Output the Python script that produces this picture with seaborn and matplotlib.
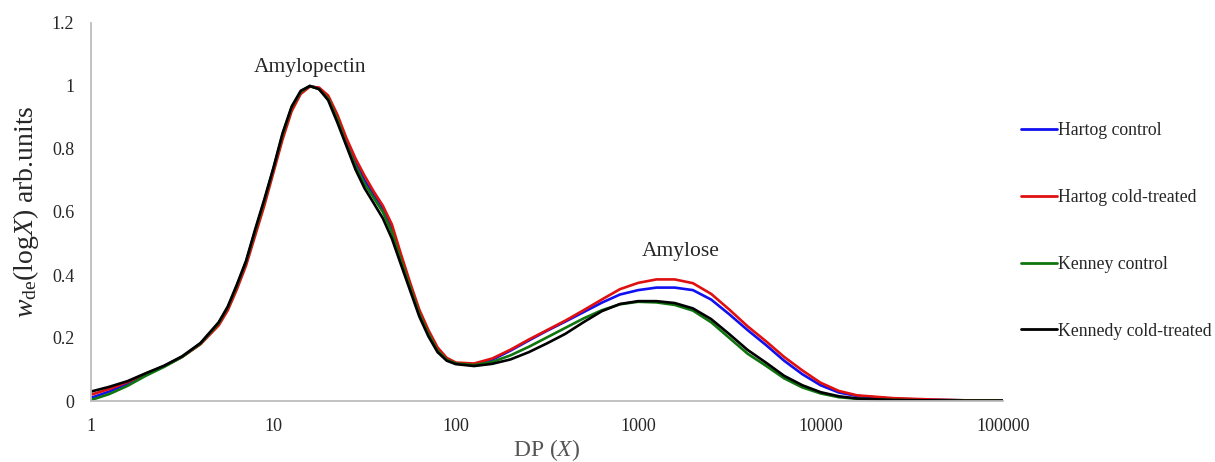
import numpy as np
import pandas as pd
import matplotlib
matplotlib.use("Agg")
import matplotlib.pyplot as plt
import seaborn as sns
from matplotlib.ticker import FixedLocator, FuncFormatter, LogLocator, NullFormatter

# log10 of the degree of polymerisation where the curves were read
log_dp = [0.0, 0.1, 0.2, 0.3, 0.4, 0.5, 0.6, 0.7, 0.75, 0.8, 0.85, 0.9, 0.95,
          1.0, 1.05, 1.1, 1.15, 1.2, 1.25, 1.3, 1.35, 1.4, 1.45, 1.5, 1.55,
          1.6, 1.65, 1.7, 1.75, 1.8, 1.85, 1.9, 1.95, 2.0, 2.1, 2.2, 2.3,
          2.4, 2.5, 2.6, 2.7, 2.8, 2.9, 3.0, 3.1, 3.2, 3.3, 3.4, 3.5, 3.6,
          3.7, 3.8, 3.9, 4.0, 4.1, 4.2, 4.4, 4.6, 4.8, 5.0]

hartog_control = [0.010, 0.030, 0.055, 0.085, 0.110, 0.141, 0.182, 0.245, 0.295,
                  0.362, 0.438, 0.535, 0.630, 0.735, 0.840, 0.930, 0.980, 1.000,
                  0.993, 0.965, 0.900, 0.825, 0.760, 0.700, 0.655, 0.610, 0.550,
                  0.455, 0.365, 0.280, 0.217, 0.163, 0.133, 0.120, 0.116, 0.131,
                  0.160, 0.192, 0.223, 0.252, 0.282, 0.312, 0.338, 0.352, 0.360,
                  0.360, 0.352, 0.322, 0.275, 0.225, 0.178, 0.128, 0.085, 0.050,
                  0.027, 0.016, 0.007, 0.004, 0.002, 0.001]

hartog_cold = [0.020, 0.038, 0.060, 0.087, 0.110, 0.140, 0.180, 0.240, 0.288,
               0.355, 0.430, 0.525, 0.620, 0.725, 0.830, 0.920, 0.975, 0.998,
               0.995, 0.970, 0.910, 0.835, 0.770, 0.715, 0.665, 0.620, 0.560,
               0.465, 0.375, 0.290, 0.225, 0.170, 0.137, 0.122, 0.119, 0.135,
               0.163, 0.195, 0.225, 0.255, 0.288, 0.322, 0.355, 0.375, 0.386,
               0.386, 0.374, 0.340, 0.290, 0.237, 0.190, 0.140, 0.097, 0.058,
               0.032, 0.018, 0.009, 0.005, 0.002, 0.001]

kenney_control = [0.003, 0.022, 0.048, 0.080, 0.108, 0.140, 0.182, 0.247, 0.298,
                  0.366, 0.442, 0.540, 0.635, 0.738, 0.845, 0.932, 0.982, 1.000,
                  0.990, 0.960, 0.895, 0.815, 0.748, 0.690, 0.645, 0.600, 0.535,
                  0.445, 0.360, 0.276, 0.213, 0.160, 0.131, 0.119, 0.114, 0.124,
                  0.145, 0.172, 0.202, 0.232, 0.262, 0.288, 0.307, 0.315, 0.313,
                  0.305, 0.287, 0.250, 0.200, 0.150, 0.112, 0.072, 0.043, 0.024,
                  0.012, 0.007, 0.003, 0.002, 0.001, 0.001]

kennedy_cold = [0.030, 0.045, 0.063, 0.088, 0.112, 0.142, 0.184, 0.250, 0.300,
                0.370, 0.445, 0.545, 0.640, 0.740, 0.850, 0.935, 0.985, 1.000,
                0.990, 0.955, 0.885, 0.810, 0.735, 0.675, 0.628, 0.580, 0.515,
                0.432, 0.350, 0.268, 0.205, 0.155, 0.128, 0.117, 0.111, 0.118,
                0.132, 0.155, 0.183, 0.213, 0.250, 0.285, 0.308, 0.317, 0.317,
                0.311, 0.294, 0.260, 0.212, 0.162, 0.122, 0.080, 0.050, 0.028,
                0.015, 0.008, 0.003, 0.002, 0.001, 0.001]

series = {
    "Hartog control": hartog_control,
    "Hartog cold-treated": hartog_cold,
    "Kenney control": kenney_control,
    "Kennedy cold-treated": kennedy_cold,
}
colors = {
    "Hartog control": "#1010f0",
    "Hartog cold-treated": "#e01010",
    "Kenney control": "#0f750f",
    "Kennedy cold-treated": "#000000",
}

dp = 10 ** np.array(log_dp)
df = pd.concat(
    [pd.DataFrame({"dp": dp, "w": vals, "sample": name}) for name, vals in series.items()],
    ignore_index=True,
)

sns.set_style("white")
plt.rcParams["font.family"] = ["Liberation Serif", "DejaVu Serif"]
plt.rcParams["mathtext.fontset"] = "custom"
plt.rcParams["mathtext.rm"] = "Liberation Serif"
plt.rcParams["mathtext.it"] = "Liberation Serif:italic"

fig = plt.figure(figsize=(12.15, 4.62), dpi=100)
ax = fig.add_axes([91 / 1215, 61 / 462, 912 / 1215, 378 / 462])

sns.lineplot(data=df, x="dp", y="w", hue="sample", palette=colors, sort=False,
             estimator=None, linewidth=1.9, ax=ax, legend=False)

ax.set_xscale("log")
ax.set_xlim(1, 100000)
ax.set_ylim(0, 1.2)

ax.xaxis.set_major_locator(FixedLocator([1, 10, 100, 1000, 10000, 100000]))
ax.xaxis.set_major_formatter(FuncFormatter(lambda v, p: f"{v:.0f}"))
ax.xaxis.set_minor_locator(LogLocator(base=10, subs=np.arange(2, 10)))
ax.xaxis.set_minor_formatter(NullFormatter())
ax.set_yticks([0, 0.2, 0.4, 0.6, 0.8, 1.0, 1.2])
ax.yaxis.set_major_formatter(FuncFormatter(lambda v, p: f"{v:g}"))

ax.tick_params(axis="x", which="both", direction="in", length=4, width=0.8,
               color="#b0b0b0", labelsize=13, pad=12)
ax.tick_params(axis="y", length=0, labelsize=13, pad=12)

for side in ["top", "right"]:
    ax.spines[side].set_visible(False)
for side in ["left", "bottom"]:
    ax.spines[side].set_color("#bdbdbd")
    ax.spines[side].set_linewidth(1.3)

ax.set_xlabel(r"DP ($X$)", fontsize=17, color="#555555", labelpad=2)
ax.set_ylabel(r"$w_{\mathrm{de}}(\mathrm{log}X)$ arb.units", fontsize=20, labelpad=8)

ax.text(15.9, 1.06, "Amylopectin", fontsize=15.5, ha="center", va="center")
ax.text(1700, 0.475, "Amylose", fontsize=15.5, ha="center", va="center")

handles = [plt.Line2D([], [], color=colors[n], lw=2.0) for n in series]
fig.legend(handles, list(series.keys()), loc="center left",
           bbox_to_anchor=(1021 / 1215, 1 - 231 / 462), frameon=False,
           fontsize=12.8, handlelength=2.0, handletextpad=0.1,
           labelspacing=2.8, borderpad=0, borderaxespad=0)

fig.savefig("out.png", dpi=100)
